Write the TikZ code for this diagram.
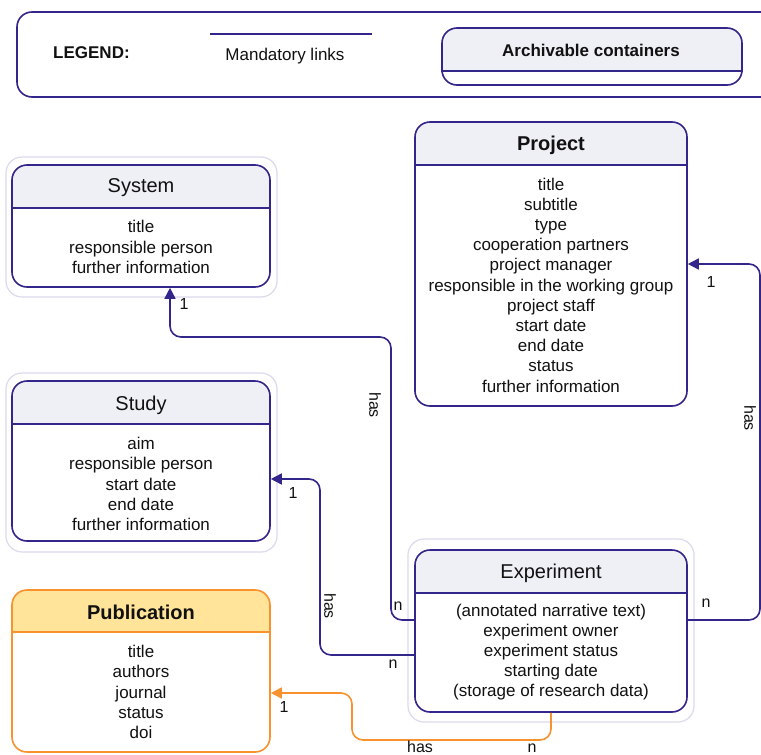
\documentclass[tikz,border=0pt]{standalone}
\usepackage{fontspec}
\setmainfont{Liberation Sans}
\usetikzlibrary{arrows.meta,fit}
\definecolor{pur}{HTML}{33268A}
\definecolor{hdr}{HTML}{EFF0F5}
\definecolor{halo}{HTML}{DCDAEC}
\definecolor{org}{HTML}{F7922E}
\definecolor{orgfill}{HTML}{FFE49A}
\definecolor{txt}{HTML}{111111}
\tikzset{
  ent/.style={draw=#1, line width=1.6pt, rounded corners=15pt, inner sep=0pt},
  halobox/.style={draw=halo, line width=1.2pt, rounded corners=16pt, inner sep=0pt},
  link/.style={draw=pur, line width=1.6pt, rounded corners=11pt},
  olink/.style={draw=org, line width=1.6pt, rounded corners=11pt},
  arr/.style={-{Triangle[length=11pt,width=11pt]}},
  body/.style={font=\fontsize{17}{20.2}\selectfont, align=center, inner sep=0pt, text=txt},
  ttl/.style={font=\fontsize{20}{24}\selectfont, inner sep=0pt, text=txt},
  bttl/.style={font=\fontsize{20}{24}\selectfont\bfseries, inner sep=0pt, text=txt},
  leg/.style={font=\fontsize{17}{20}\selectfont, inner sep=0pt, text=txt},
  bleg/.style={font=\fontsize{17}{20}\selectfont\bfseries, inner sep=0pt, text=txt},
  lbl/.style={font=\fontsize{16}{19}\selectfont, inner sep=0pt, text=txt},
}
% #1 name, #2 x1, #3 y1, #4 x2, #5 y2, #6 divider y, #7 stroke, #8 header fill
\newcommand{\entbox}[8]{%
  \begin{scope}
    \clip[rounded corners=15pt] (#2,#3) rectangle (#4,#5);
    \fill[#8] (#2,#3) rectangle (#4,#6);
  \end{scope}
  \node[ent=#7, fit={(#2,#3) (#4,#5)}] (#1) {};
  \draw[#7, line width=1.6pt] (#1.west |- 0,#6) -- (#1.east |- 0,#6);
}
\begin{document}
\begin{tikzpicture}[x=1pt,y=-1pt]
\useasboundingbox (0,0) rectangle (761,755);
\fill[white] (0,0) rectangle (761,755);

% ---------- legend ----------
\node[ent=pur, fit={(17,12) (790,97)}] (legend) {};
\node[bleg, anchor=west] (legtitle) at (53,53) {LEGEND:};
\coordinate (mlA) at (210,34);
\coordinate (mlB) at (372,34);
\draw[pur, line width=1.6pt] (mlA) -- (mlB);
\node[leg] (mltext) at (285,56) {Mandatory links};
\entbox{arch}{442}{28}{742}{85}{71}{pur}{hdr}
\node[bleg] (archtext) at (591,50) {Archivable containers};

% ---------- halos ----------
\node[halobox, fit={(6,157) (277,297)}] (syshalo) {};
\node[halobox, fit={(6,373) (277,552)}] (stuhalo) {};
\node[halobox, fit={(408,539) (694,722)}] (exphalo) {};

% ---------- System ----------
\entbox{sys}{12}{165}{270}{287}{208}{pur}{hdr}
\node[ttl] (systtl) at (141,188) {System};
\node[body] (sysbody) at (141,247) {title\\responsible person\\further information};

% ---------- Study ----------
\entbox{stu}{12}{381}{270}{541}{424}{pur}{hdr}
\node[ttl] (stuttl) at (141,405) {Study};
\node[body] (stubody) at (141,484) {aim\\responsible person\\start date\\end date\\further information};

% ---------- Publication ----------
\entbox{pub}{12}{590}{270}{752}{632}{org}{orgfill}
\node[bttl] (pubttl) at (141,612) {Publication};
\node[body] (pubbody) at (141,692) {title\\authors\\journal\\status\\doi};

% ---------- Project ----------
\entbox{proj}{415}{122}{687}{406}{165}{pur}{hdr}
\node[bttl] (projttl) at (551,145) {Project};
\node[body] (projbody) at (551,285) {title\\subtitle\\type\\cooperation partners\\project manager\\responsible in the working group\\project staff\\start date\\end date\\status\\further information};

% ---------- Experiment ----------
\entbox{exp}{415}{550}{687}{712}{593}{pur}{hdr}
\node[ttl] (expttl) at (551,573) {Experiment};
\node[body] (expbody) at (551,652) {(annotated narrative text)\\experiment owner\\experiment status\\starting date\\(storage of research data)};

% ---------- connectors ----------
% Experiment -> System
\draw[link, arr] ([yshift=11pt]exp.west) -- (391,620) -- (391,337) -- (170,337) -- (170,0 |- sys.south);
\node[lbl] (l1a) at (184,304) {1};
\node[lbl, rotate=-90] (l1b) at (375,405) {has};
\node[lbl] (l1c) at (398,606) {n};

% Experiment -> Study
\draw[link, arr] ([yshift=-24pt]exp.west) -- (320,655) -- (320,479) -- ([yshift=-18pt]stu.east);
\node[lbl] (l2a) at (293,493) {1};
\node[lbl, rotate=-90] (l2b) at (330,606) {has};
\node[lbl] (l2c) at (393,664) {n};

% Experiment -> Publication
\draw[olink, arr] (exp.south) -- (551,740) -- (352,740) -- (352,693) -- ([yshift=-22pt]pub.east);
\node[lbl] (l3a) at (284,707) {1};
\node[lbl] (l3b) at (420,747) {has};
\node[lbl] (l3c) at (532,748) {n};

% Experiment -> Project
\draw[link, arr] ([yshift=11pt]exp.east) -- (760,620) -- (760,264) -- (proj.east);
\node[lbl] (l4a) at (711,282) {1};
\node[lbl, rotate=-90] (l4b) at (750,418) {has};
\node[lbl] (l4c) at (706,603) {n};
\end{tikzpicture}
\end{document}
